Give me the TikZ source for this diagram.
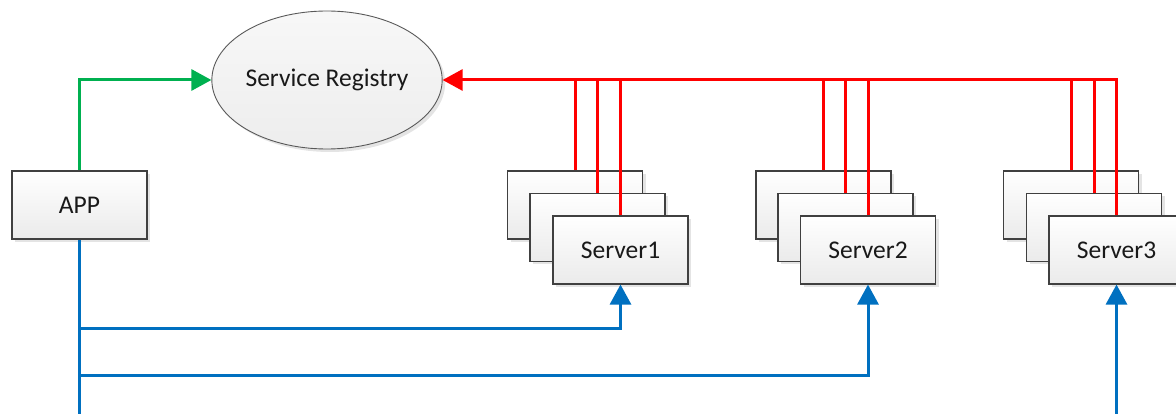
\documentclass[tikz,border=0pt]{standalone}
\usepackage{fontspec}
\setmainfont{Carlito}
\usetikzlibrary{arrows.meta,shapes.geometric,shadows}
\definecolor{gr}{HTML}{00B050}
\definecolor{rd}{HTML}{FF0000}
\definecolor{bl}{HTML}{0070C0}
\definecolor{bd}{HTML}{404040}
\begin{document}
\begin{tikzpicture}[x=1pt,y=-1pt,
  shad/.style={drop shadow={shadow xshift=3pt,shadow yshift=-3pt,fill=gray!60,opacity=0.35}},
  box/.style={rectangle, draw=bd, line width=1.1pt, minimum width=135pt, minimum height=68pt,
    inner sep=0pt, top color=white, bottom color=gray!16, shad,
    font=\fontsize{25.5}{30}\selectfont, text=black!90},
  reg/.style={ellipse, draw=gray!70!black, line width=0.9pt, minimum width=226pt, minimum height=138pt,
    inner sep=0pt, top color=gray!6, bottom color=gray!14, shad,
    font=\fontsize{25.5}{30}\selectfont, text=black!90},
  conn/.style={line width=3pt},
  tip/.style={-{Triangle[length=20pt,width=21pt]}}
]
\useasboundingbox (0,0) rectangle (1176,414);

\node[reg] (registry) at (327,80) {Service Registry};
\node[box] (app) at (79.5,205) {APP};

% server stacks
\node[box] (s1a) at (575,205) {};
\node[box] (s1b) at (597.5,227.5) {};
\node[box] (s1c) at (620.5,250) {Server1};
\node[box] (s2a) at (823.5,205) {};
\node[box] (s2b) at (845.5,227.5) {};
\node[box] (s2c) at (868,250) {Server2};
\node[box] (s3a) at (1071,205) {};
\node[box] (s3b) at (1094,227.5) {};
\node[box] (s3c) at (1116.5,250) {Server3};

% green
\draw[conn, gr, tip] (app.north) |- (registry.west);

% red
\draw[conn, rd, tip] (s3c.north) |- (registry.east);
\foreach \n in {s1a,s1b,s1c,s2a,s2b,s2c,s3a,s3b}
  \draw[conn, rd] (\n.north) -- (\n.north |- registry.east);

% blue
\coordinate (j1) at (79.5,328);
\coordinate (j2) at (79.5,375);
\coordinate (append) at (79.5,414);
\coordinate (s3end) at (1116.5,414);
\draw[conn, bl] (app.south) -- (append);
\draw[conn, bl, tip] (j1) -| (s1c.south);
\draw[conn, bl, tip] (j2) -| (s2c.south);
\draw[conn, bl, tip] (s3end) -- (s3c.south);
\end{tikzpicture}
\end{document}
